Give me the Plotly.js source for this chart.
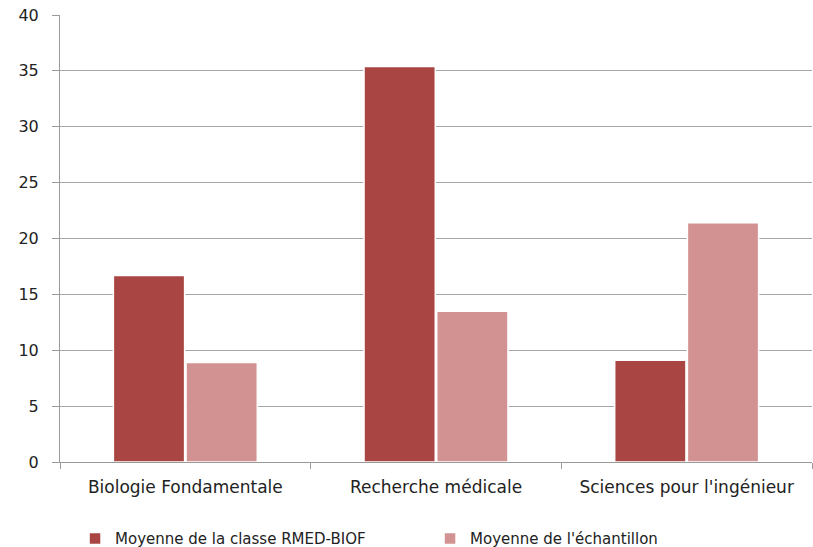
<!DOCTYPE html>
<html>
<head>
<meta charset="utf-8">
<script src="https://cdn.plot.ly/plotly-3.0.1.min.js"></script>
<style>html,body{margin:0;padding:0;background:#fff;}#chart{width:813px;height:547px;}</style>
</head>
<body>
<div id="chart"></div>
<script>
const categories = ["Biologie Fondamentale", "Recherche médicale", "Sciences pour l'ingénieur"];
const seriesNames = ["Moyenne de la classe RMED-BIOF", "Moyenne de l'échantillon"];
const classValues = [16.7, 35.4, 9.1];
const sampleValues = [8.9, 13.5, 21.4];
const yTicks = [0, 5, 10, 15, 20, 25, 30, 35, 40];

const font = "DejaVu Sans, sans-serif";
const traces = [
  {type: "bar", name: seriesNames[0], x: categories, y: classValues,
   marker: {color: "#A94644", line: {color: "#ffffff", width: 1.5}}, hoverinfo: "none"},
  {type: "bar", name: seriesNames[1], x: categories, y: sampleValues,
   marker: {color: "#D39292", line: {color: "#ffffff", width: 1.5}}, hoverinfo: "none"}
];
const layout = {
  width: 813, height: 547,
  margin: {l: 60, r: 1, t: 15, b: 85, autoexpand: false},
  paper_bgcolor: "#fff", plot_bgcolor: "#fff",
  barmode: "group", bargap: 0.42, bargroupgap: 0.02,
  font: {family: font, size: 15, color: "#222"},
  showlegend: true,
  legend: {orientation: "h", x: 0.02, xanchor: "left", y: -0.135, yanchor: "top",
           font: {family: font, size: 15, color: "#222"}, itemwidth: 30, traceorder: "normal",
           entrywidth: 310},
  xaxis: {type: "category", showgrid: false, showline: true, linecolor: "#9a9a9a", linewidth: 1,
          ticks: "outside", tickson: "boundaries", ticklen: 6, tickcolor: "#9a9a9a",
          tickfont: {family: font, size: 17, color: "#222"}, zeroline: false,
          ticklabelstandoff: 10},
  yaxis: {range: [0, 40], tickvals: yTicks, showgrid: true, gridcolor: "#a6a6a6", gridwidth: 1,
          showline: true, linecolor: "#9a9a9a", linewidth: 1, ticks: "outside", ticklen: 7,
          tickcolor: "#9a9a9a", tickfont: {family: font, size: 16, color: "#222"}, zeroline: false,
          ticklabelstandoff: 10}
};
Plotly.newPlot("chart", traces, layout, {displayModeBar: false, staticPlot: true});
</script>
</body>
</html>
